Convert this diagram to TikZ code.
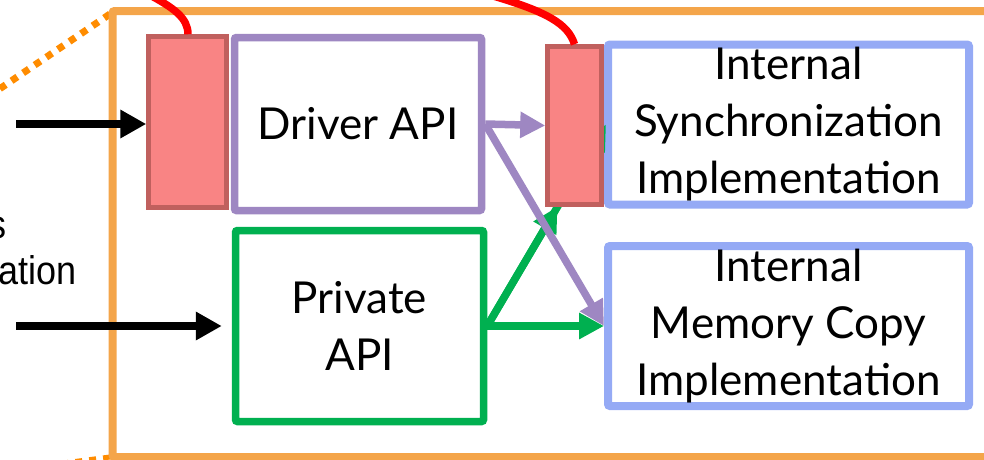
\documentclass[tikz,border=0pt]{standalone}
\usepackage{fontspec}
\setmainfont{Lato}
\newfontfamily\labelfont{Liberation Sans}
\usetikzlibrary{arrows.meta}

\definecolor{frameorange}{HTML}{F4A54A}
\definecolor{dotorange}{HTML}{FF8C00}
\definecolor{apipurple}{HTML}{9E87C2}
\definecolor{apigreen}{HTML}{00B050}
\definecolor{implblue}{HTML}{95AAF5}
\definecolor{hookfill}{HTML}{F98484}
\definecolor{hookedge}{HTML}{C0605E}

\tikzset{
  box/.style={draw, fill=white, rounded corners=2pt, align=center, inner sep=0pt,
    font=\fontsize{44}{57}\selectfont},
  hook/.style={draw=hookedge, fill=hookfill, line width=4.5pt, inner sep=0pt},
  bigarrow/.style={line width=8.5pt, -{Triangle[length=26pt,width=27pt]}},
  callarrow/.style={line width=7.5pt, -{Triangle[length=25pt,width=25pt]}},
  hookline/.style={red, line width=7.5pt},
  caption/.style={anchor=east, font=\labelfont\fontsize{40}{48}\selectfont, xscale=0.9},
}

\begin{document}
\begin{tikzpicture}[x=1pt,y=-1pt]
\useasboundingbox (0,0) rectangle (984,459);

% dotted zoom lines toward the enclosing frame
\draw[dotorange, line width=7pt, dash pattern=on 7pt off 7pt] (110,14) -- (-5,92);
\draw[dotorange, line width=5pt, dash pattern=on 7pt off 7pt] (110,457) -- (40,466);

% enclosing component frame
\draw[frameorange, line width=8pt, rounded corners=2pt] (112.5,11) rectangle (1010,457);

% left-hand caption fragments
\node (capa) [caption] at (10,228) {s};
\node (capb) [caption] at (80,270) {ation};

% API boxes
\node (drv) [box, draw=apipurple, line width=7.5pt, minimum width=247pt, minimum height=173pt] at (358,124) {Driver API};
\node (priv) [box, draw=apigreen, line width=7.5pt, minimum width=248pt, minimum height=191pt] at (359.5,326) {Private\\API};

% implementation boxes
\node (sync) [box, draw=implblue, line width=8pt, minimum width=361pt, minimum height=160pt] at (788.5,124.5) {Internal\\Synchronization\\Implementation};
\node (copy) [box, draw=implblue, line width=8pt, minimum width=361pt, minimum height=160pt] at (788.5,326) {Internal\\Memory Copy\\Implementation};

% private API reaching synchronization (runs under the second hook)
\draw[apigreen, callarrow] (priv.east) -- ([xshift=2pt]sync.west);

% interception hooks
\node (hookA) [hook, minimum width=78pt, minimum height=171pt] at (187.5,122) {};
\node (hookB) [hook, minimum width=54pt, minimum height=158pt] at (574.5,125.5) {};

% red trace lines into the hooks
\draw[hookline] (148,-6) .. controls (174,8) and (188,18) .. (hookA.north -| 188,0);
\coordinate (traceB) at (490,-5);
\draw[hookline] (traceB) .. controls (548,12) and (568,24) .. (hookB.north);

% incoming calls
\coordinate (inA) at (16,124);
\coordinate (inB) at (16,326);
\draw[bigarrow] (inA) -- (hookA.west |- inA);
\draw[bigarrow] (inB) -- ([xshift=-10pt]priv.west |- inB);

% calls between components
\draw[apigreen, callarrow] (priv.east) -- (copy.west);
\draw[apigreen, callarrow] (priv.east) -- ([xshift=-17pt]hookB.south);
\draw[apipurple, callarrow] (drv.east) -- (hookB.west);
\draw[apipurple, callarrow] (drv.east) -- (copy.west);
\end{tikzpicture}
\end{document}
